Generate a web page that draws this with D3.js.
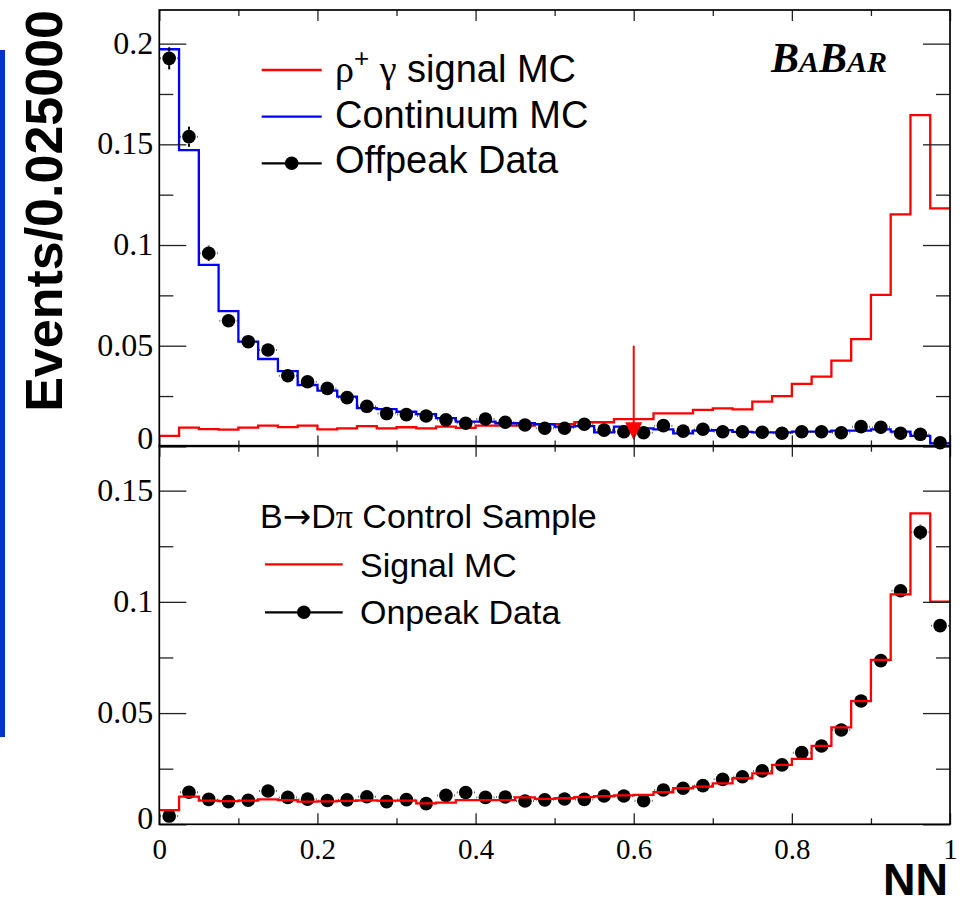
<!DOCTYPE html>
<html>
<head>
<meta charset="utf-8">
<script src="https://cdn.jsdelivr.net/npm/d3@7"></script>
<style>
  body { margin: 0; background: #fff; }
  svg { display: block; }
</style>
</head>
<body>
<div id="chart"></div>
<script>
// NN output, 40 bins of width 0.025 on [0,1]
var binWidth = 0.025;

// top pad: rho+ gamma signal MC, continuum MC, offpeak data
var signalTop = [0.0052, 0.0093, 0.0086, 0.0083, 0.0093, 0.0103, 0.0096, 0.0103, 0.0085, 0.0090,
                 0.0101, 0.0090, 0.0095, 0.0090, 0.0098, 0.0092, 0.0103, 0.0103, 0.0103, 0.0111,
                 0.0111, 0.0120, 0.0120, 0.0135, 0.0135, 0.0164, 0.0164, 0.0181, 0.0189, 0.0184,
                 0.0222, 0.0250, 0.0310, 0.0346, 0.0426, 0.0533, 0.0752, 0.1152, 0.1645, 0.1182];
var continuumTop = [0.1972, 0.1471, 0.0901, 0.0672, 0.0520, 0.0434, 0.0374, 0.0305, 0.0277, 0.0247,
                    0.0190, 0.0185, 0.0172, 0.0160, 0.0140, 0.0123, 0.0123, 0.0115, 0.0115, 0.0110,
                    0.0098, 0.0101, 0.0070, 0.0098, 0.0090, 0.0085, 0.0065, 0.0078, 0.0081, 0.0072,
                    0.0070, 0.0070, 0.0073, 0.0073, 0.0078, 0.0078, 0.0085, 0.0073, 0.0052, 0.0015];
var offpeakTop = [0.1927, 0.1538, 0.0959, 0.0624, 0.0520, 0.0479, 0.0351, 0.0321, 0.0288, 0.0242,
                  0.0199, 0.0163, 0.0158, 0.0151, 0.0132, 0.0115, 0.0136, 0.0120, 0.0106, 0.0090,
                  0.0090, 0.0110, 0.0081, 0.0073, 0.0068, 0.0103, 0.0076, 0.0085, 0.0073, 0.0073,
                  0.0070, 0.0065, 0.0073, 0.0073, 0.0068, 0.0098, 0.0095, 0.0065, 0.0060, 0.0018];
var offpeakErr = [0.0055, 0.0050, 0.0038, 0.0031, 0.0028, 0.0027, 0.0024, 0.0022, 0.0021, 0.0019,
                  0.0017, 0.0016, 0.0016, 0.0015, 0.0014, 0.0013, 0.0014, 0.0013, 0.0013, 0.0012,
                  0.0012, 0.0013, 0.0011, 0.0011, 0.0010, 0.0012, 0.0011, 0.0011, 0.0011, 0.0011,
                  0.0010, 0.0010, 0.0011, 0.0011, 0.0010, 0.0012, 0.0012, 0.0010, 0.0010, 0.0006];

// bottom pad: B -> D pi control sample, signal MC and onpeak data
var signalBot = [0.0064, 0.0124, 0.0106, 0.0104, 0.0106, 0.0112, 0.0109, 0.0102, 0.0103, 0.0105,
                 0.0108, 0.0106, 0.0106, 0.0094, 0.0097, 0.0109, 0.0109, 0.0109, 0.0121, 0.0114,
                 0.0117, 0.0122, 0.0126, 0.0130, 0.0132, 0.0144, 0.0162, 0.0169, 0.0184, 0.0207,
                 0.0229, 0.0267, 0.0294, 0.0353, 0.0436, 0.0554, 0.0739, 0.1034, 0.1398, 0.1001];
var onpeakBot = [0.0037, 0.0144, 0.0112, 0.0102, 0.0108, 0.0150, 0.0121, 0.0113, 0.0107, 0.0110,
                 0.0124, 0.0102, 0.0111, 0.0093, 0.0130, 0.0143, 0.0121, 0.0123, 0.0105, 0.0110,
                 0.0114, 0.0112, 0.0127, 0.0127, 0.0106, 0.0154, 0.0162, 0.0174, 0.0202, 0.0214,
                 0.0240, 0.0267, 0.0322, 0.0352, 0.0424, 0.0554, 0.0736, 0.1050, 0.1313, 0.0893];
var onpeakErr = [0.0006, 0.0011, 0.0010, 0.0010, 0.0010, 0.0012, 0.0010, 0.0010, 0.0010, 0.0010,
                 0.0011, 0.0010, 0.0010, 0.0009, 0.0011, 0.0011, 0.0010, 0.0010, 0.0010, 0.0010,
                 0.0010, 0.0010, 0.0011, 0.0011, 0.0010, 0.0012, 0.0012, 0.0012, 0.0013, 0.0014,
                 0.0015, 0.0015, 0.0017, 0.0018, 0.0019, 0.0022, 0.0026, 0.0030, 0.0034, 0.0028];

var xMajor = [0, 0.2, 0.4, 0.6, 0.8, 1];
var xMinor = [0.1, 0.3, 0.5, 0.7, 0.9];
var yMajorTop = [0, 0.05, 0.1, 0.15, 0.2];
var yMinorTop = [0.025, 0.075, 0.125, 0.175];
var yMajorBot = [0, 0.05, 0.1, 0.15];
var yMinorBot = [0.025, 0.075, 0.125];
var cutValue = 0.6;
var cutArrow = [0.05, 0.003];

var width = 969, height = 904;
var left = 159.3, right = 950;

var svg = d3.select("#chart").append("svg")
    .attr("width", width)
    .attr("height", height);

var x = d3.scaleLinear().domain([0, 1]).range([left, right]);
var yTop = d3.scaleLinear().domain([0, 0.2167]).range([446.4, 10]);
var yBot = d3.scaleLinear().domain([0, 0.1702]).range([824.3, 445.7]);

var red = "#ff0000", blue = "#0000ff";
var sans = "'Liberation Sans', Arial, sans-serif";
var serif = "'Liberation Serif', 'Times New Roman', serif";
var fmt = function(d) { return String(d); };

// stray blue strip at the left edge
svg.append("rect").attr("x", 0).attr("y", 50).attr("width", 5).attr("height", 687)
    .attr("fill", "#0033cc");

function stepPath(vals, y) {
    var pts = vals.map(function(v, i) { return [i * binWidth, v]; });
    pts.push([vals.length * binWidth, vals[vals.length - 1]]);
    return d3.line()
        .x(function(d) { return x(d[0]); })
        .y(function(d) { return y(d[1]); })
        .curve(d3.curveStepAfter)(pts);
}

function drawHist(vals, y, color) {
    svg.append("path")
        .attr("d", stepPath(vals, y))
        .attr("fill", "none")
        .attr("stroke", color)
        .attr("stroke-width", 2.3);
}

function drawPoints(vals, errs, y) {
    var r = 6.8, gap = 1.5;
    var g = svg.append("g");
    vals.forEach(function(v, i) {
        var cx = x((i + 0.5) * binWidth), cy = y(v);
        var x0 = x(i * binWidth), x1 = x((i + 1) * binWidth);
        g.append("line").attr("x1", x0 + 1).attr("x2", cx - r - gap).attr("y1", cy).attr("y2", cy);
        g.append("line").attr("x1", cx + r + gap).attr("x2", x1 - 1).attr("y1", cy).attr("y2", cy);
        var yu = y(v + errs[i]), yd = y(v - errs[i]);
        if (cy - yu > r) g.append("line").attr("x1", cx).attr("x2", cx).attr("y1", yu).attr("y2", cy - r);
        if (yd - cy > r) g.append("line").attr("x1", cx).attr("x2", cx).attr("y1", cy + r).attr("y2", yd);
        g.append("circle").attr("cx", cx).attr("cy", cy).attr("r", r).attr("fill", "#000");
    });
    g.selectAll("line").attr("stroke", "#000").attr("stroke-width", 2);
}

function styleAxis(sel) {
    sel.select(".domain").remove();
    sel.selectAll(".tick line").attr("stroke", "#222").attr("stroke-width", 1.3);
    sel.selectAll("text").attr("fill", "#000");
}

function drawFrame(y, yMajor, yMinor, showX, zeroShift) {
    var y0 = y.range()[0], y1 = y.range()[1];
    // y axes, ticks inward on both sides
    svg.append("g").attr("transform", "translate(" + left + ",0)")
        .call(d3.axisLeft(y).tickValues(yMajor).tickFormat(fmt).tickSizeInner(-27).tickSizeOuter(0).tickPadding(6))
        .call(styleAxis)
        .call(function(g) {
            g.selectAll("text").style("font-family", serif).style("font-size", "32px")
                .attr("dy", "0.3em")
                .attr("y", function(d) { return d === 0 ? zeroShift : 0; });
        });
    svg.append("g").attr("transform", "translate(" + left + ",0)")
        .call(d3.axisLeft(y).tickValues(yMinor).tickFormat("").tickSizeInner(-14).tickSizeOuter(0))
        .call(styleAxis);
    svg.append("g").attr("transform", "translate(" + right + ",0)")
        .call(d3.axisRight(y).tickValues(yMajor).tickFormat("").tickSizeInner(-27).tickSizeOuter(0))
        .call(styleAxis);
    svg.append("g").attr("transform", "translate(" + right + ",0)")
        .call(d3.axisRight(y).tickValues(yMinor).tickFormat("").tickSizeInner(-14).tickSizeOuter(0))
        .call(styleAxis);
    // x axes, ticks inward at bottom and top
    svg.append("g").attr("transform", "translate(0," + y0 + ")")
        .call(d3.axisBottom(x).tickValues(xMajor).tickFormat(showX ? fmt : "").tickSizeInner(-11).tickSizeOuter(0).tickPadding(14))
        .call(styleAxis)
        .call(function(g) {
            g.selectAll("text").style("font-family", serif).style("font-size", "29px");
        });
    svg.append("g").attr("transform", "translate(0," + y0 + ")")
        .call(d3.axisBottom(x).tickValues(xMinor).tickFormat("").tickSizeInner(-6).tickSizeOuter(0))
        .call(styleAxis);
    svg.append("g").attr("transform", "translate(0," + y1 + ")")
        .call(d3.axisTop(x).tickValues(xMajor).tickFormat("").tickSizeInner(-11).tickSizeOuter(0))
        .call(styleAxis);
    svg.append("g").attr("transform", "translate(0," + y1 + ")")
        .call(d3.axisTop(x).tickValues(xMinor).tickFormat("").tickSizeInner(-6).tickSizeOuter(0))
        .call(styleAxis);
    svg.append("rect")
        .attr("x", left).attr("y", y1)
        .attr("width", right - left).attr("height", y0 - y1)
        .attr("fill", "none").attr("stroke", "#000").attr("stroke-width", 1.7);
}

// ---- top pad ----
drawHist(signalTop, yTop, red);
drawHist(continuumTop, yTop, blue);
drawPoints(offpeakTop, offpeakErr, yTop);

// cut arrow at NN = 0.6
var ax = x(cutValue), aTop = yTop(cutArrow[0]), aTip = yTop(cutArrow[1]);
svg.append("line").attr("x1", ax).attr("x2", ax).attr("y1", aTop).attr("y2", aTip - 10)
    .attr("stroke", red).attr("stroke-width", 2);
svg.append("path")
    .attr("d", "M" + (ax - 8.5) + "," + (aTip - 18) + "L" + (ax + 8.5) + "," + (aTip - 18) + "L" + ax + "," + aTip + "Z")
    .attr("fill", red);

drawFrame(yTop, yMajorTop, yMinorTop, false, -8);

// ---- bottom pad ----
drawPoints(onpeakBot, onpeakErr, yBot);
drawHist(signalBot, yBot, red);
drawFrame(yBot, yMajorBot, yMinorBot, true, -5);

// ---- legends ----
var legTop = svg.append("g").style("font-family", sans).style("font-size", "38px");
function legendLine(g, x1, x2, y, color, dot) {
    g.append("line").attr("x1", x1).attr("x2", x2).attr("y1", y).attr("y2", y)
        .attr("stroke", color).attr("stroke-width", 2.3);
    if (dot) g.append("circle").attr("cx", (x1 + x2) / 2).attr("cy", y).attr("r", 6.8).attr("fill", "#000");
}
legendLine(legTop, 261.7, 321.7, 70, red, false);
legendLine(legTop, 261.7, 321.7, 116.7, blue, false);
legendLine(legTop, 261.7, 321.7, 163.3, "#000", true);

var t1 = legTop.append("text").attr("x", 335).attr("y", 82);
t1.append("tspan").style("font-family", serif).text("\u03c1");
t1.append("tspan").attr("dy", -15).style("font-size", "26px").text("+");
t1.append("tspan").attr("dy", 15).text(" ");
t1.append("tspan").style("font-family", serif).text("\u03b3");
t1.append("tspan").text(" signal MC");
legTop.append("text").attr("x", 335).attr("y", 128.3).text("Continuum MC");
legTop.append("text").attr("x", 335).attr("y", 173.3).text("Offpeak Data");

var legBot = svg.append("g").style("font-family", sans).style("font-size", "34px");
var h = legBot.append("text").attr("x", 260).attr("y", 528.3);
h.append("tspan").text("B");
h.append("tspan").style("font-family", "'DejaVu Sans', sans-serif").text("\u2192");
h.append("tspan").text("D");
h.append("tspan").style("font-family", serif).text("\u03c0");
h.append("tspan").text(" Control Sample");
legendLine(legBot, 265, 342.7, 564.3, red, false);
legendLine(legBot, 265, 342.7, 612.3, "#000", true);
legBot.append("text").attr("x", 360).attr("y", 576.7).text("Signal MC");
legBot.append("text").attr("x", 360).attr("y", 624).text("Onpeak Data");

// BaBar logo
var logo = svg.append("text").attr("x", 771).attr("y", 72)
    .style("font-family", serif).style("font-weight", "bold").style("font-style", "italic");
logo.append("tspan").style("font-size", "42px").text("B");
logo.append("tspan").style("font-size", "30px").text("A");
logo.append("tspan").style("font-size", "42px").text("B");
logo.append("tspan").style("font-size", "30px").text("AR");

// axis titles
svg.append("text")
    .attr("transform", "translate(62,10) rotate(-90)")
    .attr("text-anchor", "end")
    .style("font-family", sans).style("font-weight", "bold").style("font-size", "52px")
    .text("Events/0.025000");
svg.append("text")
    .attr("x", 948).attr("y", 895)
    .attr("text-anchor", "end")
    .style("font-family", sans).style("font-weight", "bold").style("font-size", "45px")
    .text("NN");
</script>
</body>
</html>
